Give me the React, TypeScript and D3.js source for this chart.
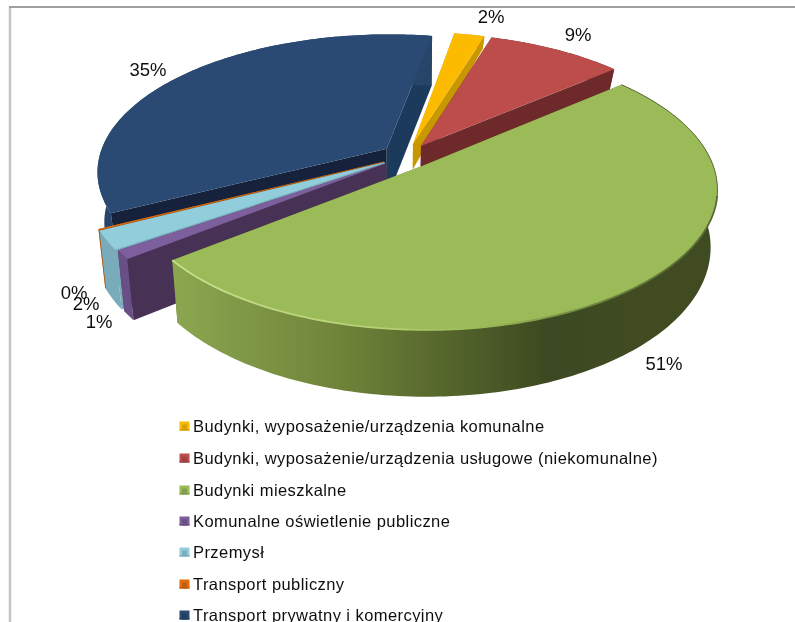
import React from "react";
import * as d3 from "d3";

const categories = [
  "Budynki, wyposażenie/urządzenia komunalne",
  "Budynki, wyposażenie/urządzenia usługowe (niekomunalne)",
  "Budynki mieszkalne",
  "Komunalne oświetlenie publiczne",
  "Przemysł",
  "Transport publiczny",
  "Transport prywatny i komercyjny",
];
const values = [2.0, 9.0, 50.6, 1.0, 2.1, 0.1, 35.2];
const percentLabels = ["2%", "9%", "51%", "1%", "2%", "0%", "35%"];

const topColors = ["#fdbb00", "#bc4e4c", "#9bbb59", "#7e5f9e", "#92cddc", "#e46c0a", "#2a4a73"];
const rimColors = ["#c89800", "#6e2b2c", "url(#greenRim)", "#6a4f87", "#7aabba", "#b5651d", "#264569"];
const startFace = ["#c89800", "#6e2b2c", "#6a7f38", "#473355", "#7aabba", "#a85a18", "#12243a"];
const endFace = ["#c89800", "#6e2b2c", "#6a7f38", "#473355", "#7aabba", "#a85a18", "#1f3a5c"];
const depthBase = [26, 23, 55, 57, 56, 56, 50];
const depthSlope = [12.6, 3, 11, 6, 6, 6, 0];
const radialScale = [1, 1, 1.005, 1.02, 1.025, 1.025, 1.008];
const drawOrder = [6, 0, 1, 5, 4, 3, 2];

const labelX = [491, 578, 664, 99, 86, 74, 148];
const labelY = [23, 41, 370, 328, 310, 299, 76];
const legendY = [426, 458, 490, 521, 552, 584, 615];

const CX = 407, CY = 156, B = 285, A = 134, K = 0.16, EXPLODE = 0.09, TILT = 0.022;
const ROTATION = (10 * Math.PI) / 180;

const arcs = d3.pie<number>().sort(null).startAngle(ROTATION).endAngle(ROTATION + 2 * Math.PI)(values);

type P = [number, number];
function makeSlice(i: number) {
  const a = arcs[i];
  const bis = (a.startAngle + a.endAngle) / 2;
  const world = (t: number, r: number) => {
    const wu = r * radialScale[i] * Math.sin(t) + EXPLODE * Math.sin(bis);
    const wv = -r * radialScale[i] * Math.cos(t) - EXPLODE * Math.cos(bis);
    return [wu, wv];
  };
  const top = (t: number, r = 1): P => {
    const [wu, wv] = world(t, r);
    const s = 1 / (1 - K * wv);
    return [CX + B * wu * s, CY + A * wv * s];
  };
  const bottom = (t: number, r = 1): P => {
    const [, wv] = world(t, r);
    const [x, y] = top(t, r);
    return [x + TILT * (CX - x), y + depthBase[i] + depthSlope[i] * wv];
  };
  const n = Math.max(2, Math.ceil((a.endAngle - a.startAngle) / 0.02));
  const ts = d3.range(n + 1).map((k) => a.startAngle + ((a.endAngle - a.startAngle) * k) / n);
  return { a, top, bottom, ts };
}

const line = d3.line<P>().curve(d3.curveLinear);
const closed = (pts: P[]) => (line(pts) as string) + "Z";

function Slice({ i }: { i: number }) {
  const { a, top, bottom, ts } = makeSlice(i);
  const topPath = closed([top(a.startAngle, 0), ...ts.map((t) => top(t))]);
  const rim = closed([...ts.map((t) => top(t)), ...ts.slice().reverse().map((t) => bottom(t))]);
  const face = (t: number) => closed([top(t, 0), top(t), bottom(t), bottom(t, 0)]);
  const frontEdge = ts.filter((t) => -Math.cos(t) > 0.2).map((t) => top(t));
  const backEdge = ts.filter((t) => -Math.cos(t) <= 0.25).map((t) => top(t));
  return (
    <g>
      <path d={face(a.endAngle)} fill={endFace[i]} />
      <path d={rim} fill={rimColors[i]} />
      <path d={face(a.startAngle)} fill={startFace[i]} />
      <path d={topPath} fill={topColors[i]} />
      {i === 2 && <path d={line(frontEdge) as string} fill="none" stroke="url(#greenEdge)" strokeWidth={1.8} />}
      {i === 2 && <path d={line(backEdge) as string} fill="none" stroke="#5a6b33" strokeWidth={1} />}
    </g>
  );
}

export default function App() {
  return (
    <svg width={795} height={622} style={{ position: "absolute", left: 0, top: 0, background: "#fff" }}>
      <defs>
        <linearGradient id="greenRim" gradientUnits="userSpaceOnUse" x1={175} x2={720} y1={0} y2={0}>
          <stop offset="0" stopColor="#8ba650" />
          <stop offset="0.3" stopColor="#6f8439" />
          <stop offset="0.68" stopColor="#3d4a21" />
          <stop offset="1" stopColor="#414c24" />
        </linearGradient>
        <linearGradient id="greenEdge" gradientUnits="userSpaceOnUse" x1={175} x2={720} y1={0} y2={0}>
          <stop offset="0" stopColor="#c9e08a" />
          <stop offset="0.4" stopColor="#b4cf72" />
          <stop offset="0.55" stopColor="#9bbb59" />
          <stop offset="0.8" stopColor="#6a7d3c" />
          <stop offset="1" stopColor="#566733" />
        </linearGradient>
        <filter id="soft" x="-5%" y="-5%" width="110%" height="110%">
          <feGaussianBlur stdDeviation="0.4" />
        </filter>
      </defs>
      <g filter="url(#soft)">
        <line x1={10} y1={7} x2={10} y2={622} stroke="#c4c4c4" strokeWidth={2.5} />
        <line x1={9} y1={7} x2={795} y2={7} stroke="#a0a0a0" strokeWidth={2} />
        {drawOrder.map((i) => (
          <Slice key={i} i={i} />
        ))}
        <g fontFamily="'Liberation Sans', Arial, sans-serif" fill="#111">
          {percentLabels.map((t, i) => (
            <text key={i} x={labelX[i]} y={labelY[i]} fontSize={18.5} textAnchor="middle">
              {t}
            </text>
          ))}
          {categories.map((c, i) => {
            const dark = d3.color(topColors[i])!.darker(0.45).formatHex();
            return (
              <g key={c}>
                <rect x={179.5} y={legendY[i] - 4.5} width={10} height={9} fill={topColors[i]} />
                <rect x={182} y={legendY[i] - 1.5} width={5} height={6} fill={dark} />
                <rect x={179.5} y={legendY[i] + 3} width={10} height={1.5} fill={dark} />
                <text x={193} y={legendY[i] + 5.5} fontSize={16.5} letterSpacing={0.43}>
                  {c}
                </text>
              </g>
            );
          })}
        </g>
      </g>
    </svg>
  );
}
